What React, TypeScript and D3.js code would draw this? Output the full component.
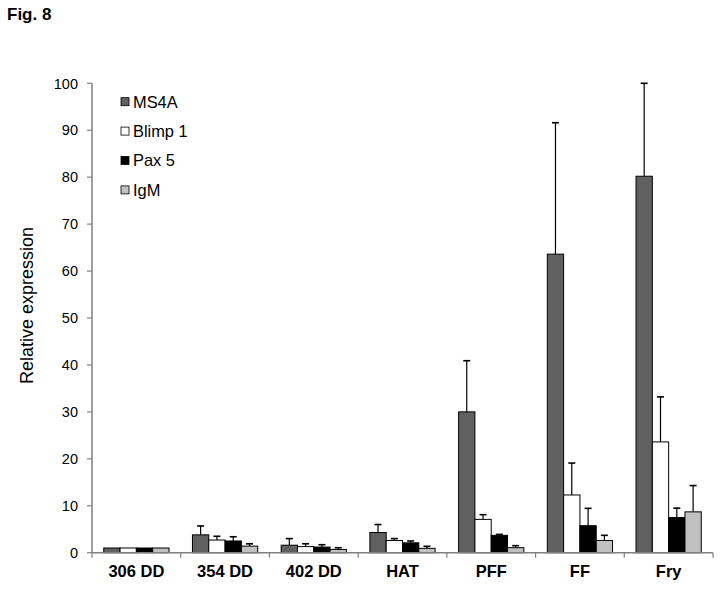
import React from 'react';
import * as d3 from 'd3';

const categories = ['306 DD', '354 DD', '402 DD', 'HAT', 'PFF', 'FF', 'Fry'];
const seriesNames = ['MS4A', 'Blimp 1', 'Pax 5', 'IgM'];
const seriesColors = ['#606060', '#ffffff', '#000000', '#c0c0c0'];

// means per category, one array per series
const ms4a = [1.0, 3.8, 1.6, 4.3, 30.0, 63.6, 80.2];
const blimp1 = [1.0, 2.7, 1.3, 2.6, 7.1, 12.3, 23.6];
const pax5 = [1.0, 2.5, 1.2, 2.1, 3.7, 5.75, 7.5];
const igm = [1.0, 1.4, 0.7, 0.93, 1.07, 2.6, 8.7];

// upper end of error bars (mean + SD)
const ms4aErr = [1.0, 5.7, 3.0, 6.0, 40.9, 91.6, 100];
const blimp1Err = [1.0, 3.5, 1.9, 3.0, 8.1, 19.1, 33.2];
const pax5Err = [1.0, 3.4, 1.7, 2.5, 3.9, 9.45, 9.5];
const igmErr = [1.0, 1.9, 1.06, 1.36, 1.5, 3.7, 14.3];

const yTicks = [0, 10, 20, 30, 40, 50, 60, 70, 80, 90, 100];

const values = [ms4a, blimp1, pax5, igm];
const errors = [ms4aErr, blimp1Err, pax5Err, igmErr];

export default function App() {
  const width = 721;
  const height = 589;
  const left = 92;
  const right = 713;
  const top = 83.3;
  const bottom = 552.7;
  const font = 'Arial, "Liberation Sans", sans-serif';
  const axisColor = '#808080';

  const x0 = d3.scaleBand<string>().domain(categories).range([left, right]);
  const x1 = d3
    .scaleBand<string>()
    .domain(seriesNames)
    .range([0, x0.bandwidth()])
    .paddingInner(0)
    .paddingOuter(0.72);
  const y = d3.scaleLinear().domain([0, 100]).range([bottom, top]);

  const bw = x1.bandwidth();

  return (
    <svg width={width} height={height} style={{ position: 'absolute', left: 0, top: 0 }}>
      <rect width={width} height={height} fill="#fff" />
      <text x={7} y={20} fontFamily={font} fontSize={17} fontWeight="bold">
        Fig. 8
      </text>

      {/* bars */}
      {categories.map((c, i) => (
        <g key={c} transform={`translate(${x0(c)},0)`}>
          {seriesNames.map((s, k) => {
            const v = values[k][i];
            const e = errors[k][i];
            const bx = x1(s)!;
            const cx = bx + bw / 2;
            return (
              <g key={s}>
                {e > v && (
                  <g stroke="#000" strokeWidth={1.2}>
                    <line x1={cx} x2={cx} y1={y(v)} y2={y(e)} />
                    <line x1={cx - 3.5} x2={cx + 3.5} y1={y(e)} y2={y(e)} strokeWidth={1.6} />
                  </g>
                )}
                <rect
                  x={bx}
                  y={y(v)}
                  width={bw}
                  height={y(0) - y(v)}
                  fill={seriesColors[k]}
                  stroke="#000"
                  strokeWidth={1}
                />
              </g>
            );
          })}
        </g>
      ))}

      {/* y axis */}
      <line x1={left} x2={left} y1={top} y2={bottom} stroke={axisColor} strokeWidth={1.5} />
      {yTicks.map((t) => (
        <g key={t}>
          <line x1={left - 5} x2={left} y1={y(t)} y2={y(t)} stroke={axisColor} strokeWidth={1.2} />
          <text
            x={78}
            y={y(t)}
            dy="0.36em"
            textAnchor="end"
            fontFamily={font}
            fontSize={14.5}
            fill="#000"
          >
            {t}
          </text>
        </g>
      ))}

      {/* x axis */}
      <line x1={left} x2={right} y1={bottom} y2={bottom} stroke={axisColor} strokeWidth={1.5} />
      {[...categories.map((c) => x0(c)!), right].map((tx, i) => (
        <line key={i} x1={tx} x2={tx} y1={bottom} y2={bottom + 5} stroke={axisColor} strokeWidth={1.2} />
      ))}
      {categories.map((c) => (
        <text
          key={c}
          x={x0(c)! + x0.bandwidth() / 2}
          y={577}
          textAnchor="middle"
          fontFamily={font}
          fontSize={16.5}
          fontWeight="bold"
        >
          {c}
        </text>
      ))}

      <text
        transform={`translate(33,305.5) rotate(-90)`}
        textAnchor="middle"
        fontFamily={font}
        fontSize={18}
      >
        Relative expression
      </text>

      {/* legend */}
      {seriesNames.map((s, k) => {
        const ly = 101.7 + k * 29.4;
        return (
          <g key={s}>
            <rect x={121} y={ly - 4} width={8} height={8} fill={seriesColors[k]} stroke="#000" strokeWidth={0.8} />
            <text x={133} y={ly} dy="0.36em" fontFamily={font} fontSize={16.4}>
              {s}
            </text>
          </g>
        );
      })}
    </svg>
  );
}
